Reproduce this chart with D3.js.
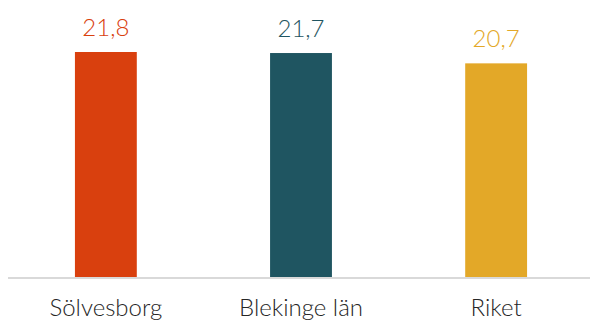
<!DOCTYPE html>
<html>
<head>
<meta charset="utf-8">
<script src="https://cdn.jsdelivr.net/npm/d3@7"></script>
<style>
  html, body { margin: 0; padding: 0; background: #fff; }
  svg { display: block; }
</style>
</head>
<body>
<svg id="chart" width="590" height="320"></svg>
<script>
// Regions and their values
const categories = ["Sölvesborg", "Blekinge län", "Riket"];
const values = [21.8, 21.7, 20.7];
const valueLabels = ["21,8", "21,7", "20,7"];
const colors = ["#D9400E", "#1F5561", "#E3A828"];

const svg = d3.select("#chart");
const baseline = 277;

const x = d3.scaleBand()
  .domain(categories)
  .range([8, 594])
  .paddingInner(0.683)
  .paddingOuter(0.343);

const y = d3.scaleLinear()
  .domain([0, 21.8])
  .range([baseline, 52]);

const rows = categories.map((c, i) => ({ c, v: values[i], label: valueLabels[i], color: colors[i] }));

svg.selectAll("rect.bar")
  .data(rows)
  .join("rect")
  .attr("class", "bar")
  .attr("x", d => x(d.c))
  .attr("width", x.bandwidth())
  .attr("y", d => y(d.v))
  .attr("height", d => y(0) - y(d.v))
  .attr("fill", d => d.color);

// baseline axis with region names
const axis = d3.axisBottom(x).tickSize(0).tickPadding(22);
const g = svg.append("g").attr("transform", `translate(0,${baseline})`).call(axis);
g.select(".domain").attr("stroke", "#D9D9D9").attr("stroke-width", 2).attr("d", "M8,1H594");
g.selectAll(".tick text")
  .attr("font-family", "Lato, sans-serif")
  .attr("font-weight", 300)
  .attr("font-size", 24)
  .attr("fill", "#262626")
  .attr("dy", "0.71em");

// value labels above bars
svg.selectAll("text.val")
  .data(rows)
  .join("text")
  .attr("class", "val")
  .attr("x", d => x(d.c) + x.bandwidth() / 2)
  .attr("y", d => y(d.v) - 16)
  .attr("text-anchor", "middle")
  .attr("font-family", "Lato, sans-serif")
  .attr("font-weight", 300)
  .attr("font-size", 24)
  .attr("fill", d => d.color)
  .text(d => d.label);
</script>
</body>
</html>
